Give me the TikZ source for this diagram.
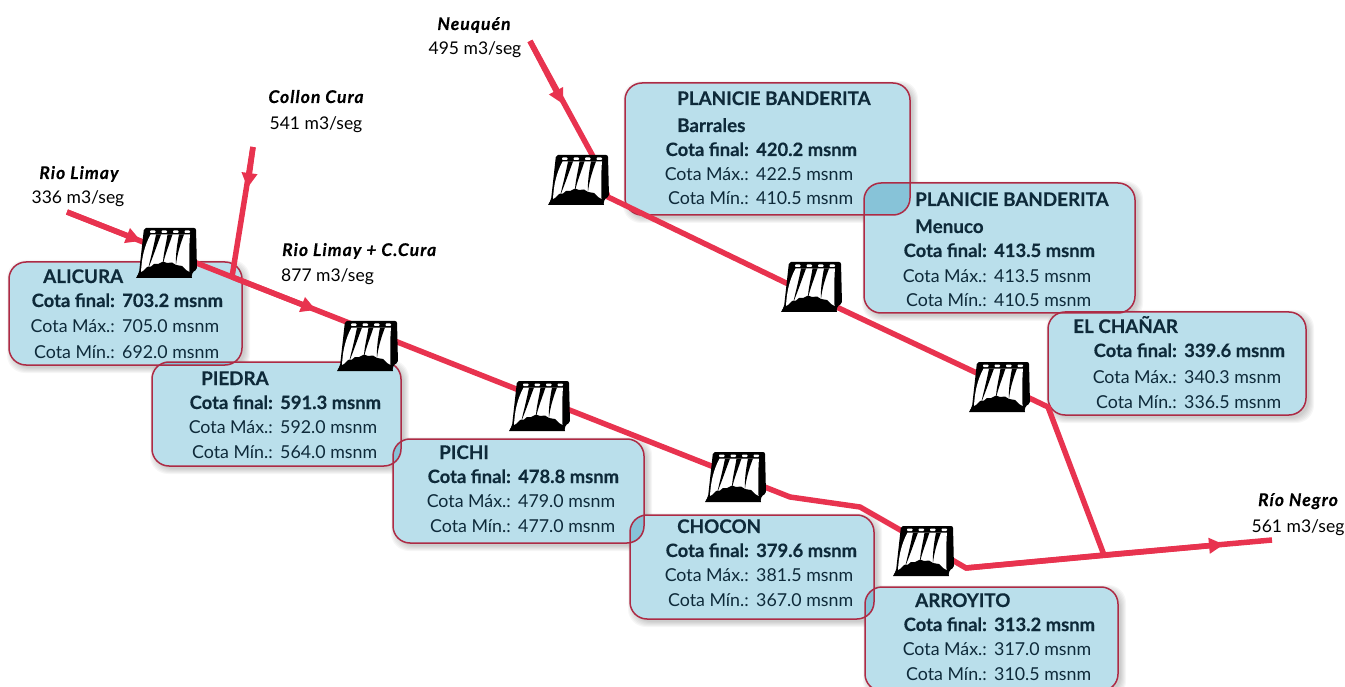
\documentclass[tikz,border=0pt]{standalone}
\usepackage{fontspec}
\setmainfont{Lato}
\usetikzlibrary{arrows.meta}
\definecolor{cajafill}{HTML}{BADFEB}
\definecolor{cajaborde}{HTML}{AD2B45}
\definecolor{rio}{HTML}{E8334F}
\definecolor{tinta}{HTML}{0E2A3A}
\newcommand{\negrita}{\bfseries\addfontfeature{FakeBold=0.25}}
\tikzset{
  cajabox/.style={rounded corners=17pt,inner sep=0pt,outer sep=0pt},
  riopath/.style={draw=rio,line width=5.5pt,line join=miter},
  riotip/.style={riopath,-{Triangle[length=15pt,width=15pt]}},
  titulo/.style={anchor=base west,inner sep=0pt,yshift=-1pt,font=\fontsize{18.8}{20}\selectfont\negrita,text=tinta},
  etfinal/.style={anchor=base east,inner sep=0pt,yshift=-1pt,font=\fontsize{18.4}{20}\selectfont\negrita,text=tinta},
  valfinal/.style={anchor=base west,inner sep=0pt,yshift=-1pt,font=\fontsize{18.4}{20}\selectfont\negrita,text=tinta},
  etnorm/.style={anchor=base east,inner sep=0pt,yshift=-1pt,font=\fontsize{17.8}{20}\selectfont,text=tinta},
  valnorm/.style={anchor=base west,inner sep=0pt,yshift=-1pt,font=\fontsize{17.8}{20}\selectfont,text=tinta},
  riotit/.style={anchor=base,inner sep=0pt,font=\fontsize{17.5}{20}\selectfont\bfseries\itshape\addfontfeature{FakeBold=0.25,LetterSpace=6},text=black},
  riocau/.style={anchor=base,inner sep=0pt,font=\fontsize{17.5}{20}\selectfont,text=black},
  represa/.pic={
    \fill[black,rounded corners=2pt] (8,1)--(60,1)--(61,43)--(56,45)--(56,50)--(0,51)--(3,46)--cycle;
    % white crest marks
    \fill[white,rounded corners=0.8pt] (14,3.5) rectangle (19.5,6) (25.5,3.5) rectangle (31,6)
                 (37,3.5) rectangle (42.5,6) (48.5,3.5) rectangle (54,6);
    % white falls
    \fill[white] (14.5,7.5)--(54,7.5) .. controls (53,18) and (53.5,32) .. (53.5,46)
       --(5,46) .. controls (5.5,30) and (9,18) .. cycle;
    % black separators
    \fill[black] (20,7.5)--(25,7.5) .. controls (21,18) and (17,30) .. (12,42) .. controls (15,30) and (18,18) .. cycle;
    \fill[black] (31.5,7.5)--(36.5,7.5) .. controls (33,18) and (29,28) .. (27,37) .. controls (27,28) and (30,18) .. cycle;
    \fill[black] (43,7.5)--(48,7.5) .. controls (44,18) and (41,28) .. (40,38) .. controls (39.5,28) and (41,18) .. cycle;
    % hill
    \fill[black] (0,51)--(3,46)--(7,44)--(11,40)--(15,39.5)--(18,37)--(22,37)--(27,34.5)--(31,36)--(36,35.5)--(40,38)--(46,39)--(50,43)--(55,46)--(56,51)--cycle;
  }
}
\newcommand{\datos}[9]{% name,xe,xv,y1,y2,y3,v1,v2,v3
  \node[etfinal] (#1-e1) at (#2,#4) {Cota final:};
  \node[valfinal] (#1-v1) at (#3,#4) {#7 msnm};
  \node[etnorm] (#1-e2) at (#2,#5) {Cota Máx.:};
  \node[valnorm] (#1-v2) at (#3,#5) {#8 msnm};
  \node[etnorm] (#1-e3) at (#2,#6) {Cota Mín.:};
  \node[valnorm] (#1-v3) at (#3,#6) {#9 msnm};
}
\newcommand{\listacajas}{ali/9/262/242/365,pie/152/362/401/466,pic/393/439/644/543,cho/630/515/874/619,arr/865/587/1118/691,bar/625/83/910/215,men/864/183/1135/313,cha/1048/312/1306/415}
\begin{document}
\begin{tikzpicture}[x=1pt,y=-1pt]
\useasboundingbox (0,0) rectangle (1345,687);
% shadows
\foreach \n/\a/\b/\c/\d in \listacajas {
  \foreach \r in {5,4,3,2,1,0} {
    \fill[black,opacity=0.035,rounded corners=18pt] (\a+3-\r,\b+3-\r) rectangle (\c+3+\r,\d+3+\r);
  }
}
\foreach \n/\a/\b/\c/\d in \listacajas {
  \fill[white,rounded corners=17pt] (\a,\b) rectangle (\c,\d);
}
% boxes
\begin{scope}[blend mode=multiply]
\foreach \n/\a/\b/\c/\d in \listacajas {
  \node[cajabox,fill=cajafill,
        minimum width={(\c-\a)*1pt},minimum height={(\d-\b)*1pt}]
        (\n) at ({(\a+\c)/2},{(\b+\d)/2}) {};
}
\end{scope}
\foreach \n/\a/\b/\c/\d in \listacajas {
  \draw[cajaborde,line width=1.5pt,rounded corners=17pt] (\a,\b) rectangle (\c,\d);
}
% box texts
\node[titulo] (ali-t) at (43,282) {ALICURA};
\datos{ali}{115}{122}{306}{332}{357}{703.2}{705.0}{692.0}
\node[titulo] (pie-t) at (201,384) {PIEDRA};
\datos{pie}{273}{280}{408}{432}{457}{591.3}{592.0}{564.0}
\node[titulo] (pic-t) at (439,458) {PICHI};
\datos{pic}{511}{518}{482}{506}{531}{478.8}{479.0}{477.0}
\node[titulo] (cho-t) at (677,532) {CHOCON};
\datos{cho}{749}{756}{556}{580}{605}{379.6}{381.5}{367.0}
\node[titulo] (arr-t) at (915,606) {ARROYITO};
\datos{arr}{987}{994}{630}{654}{679}{313.2}{317.0}{310.5}
\node[titulo] (bar-t) at (677,104) {PLANICIE BANDERITA};
\node[titulo] (bar-s) at (677,131) {Barrales};
\datos{bar}{749}{756}{155}{180}{204}{420.2}{422.5}{410.5}
\node[titulo] (men-t) at (915,205) {PLANICIE BANDERITA};
\node[titulo] (men-s) at (915,232) {Menuco};
\datos{men}{987}{994}{256}{282}{306}{413.5}{413.5}{410.5}
\node[titulo] (cha-t) at (1073,332) {EL CHAÑAR};
\datos{cha}{1177}{1184}{356}{382}{407}{339.6}{340.3}{336.5}
% river coordinates
\coordinate (limayIni) at (67,212);
\coordinate (limayTip) at (141,241);
\coordinate (dAli) at (167,251.4);
\coordinate (junta) at (232,277);
\coordinate (mainTip) at (316,310);
\coordinate (dPie) at (367,330);
\coordinate (dPic) at (539,398);
\coordinate (dCho) at (736,475.7);
\coordinate (q1) at (790,497);
\coordinate (q2) at (860,507);
\coordinate (dArr) at (923,543);
\coordinate (q3) at (966,568);
\coordinate (juntaN) at (1104,555);
\coordinate (negroTip) at (1224,544.4);
\coordinate (negroFin) at (1272,540);
\coordinate (collonIni) at (253,147);
\coordinate (collonTip) at (247.5,188);
\coordinate (neuIni) at (530,41);
\coordinate (neuTip) at (563,104);
\coordinate (dBar) at (595,160);
\coordinate (dBar2) at (608,197);
\coordinate (dMen) at (811,295);
\coordinate (dCha) at (998,383);
\coordinate (chaFin) at (1048,407);
% rivers
\draw[riopath] (limayIni) -- (dAli) -- (junta) -- (dPie) -- (dPic) -- (dCho) -- (q1) -- (q2) -- (dArr) -- (q3) -- (juntaN) -- (negroFin);
\draw[riotip] (limayIni) -- (limayTip);
\draw[riotip] (junta) -- (mainTip);
\draw[riotip] (q3) -- (negroTip);
\draw[riopath] (collonIni) -- (junta);
\draw[riotip] (collonIni) -- (collonTip);
\draw[riopath] (neuIni) -- (dBar) -- (dBar2) -- (dMen) -- (dCha) -- (chaFin) -- (juntaN);
\draw[riotip] (neuIni) -- (neuTip);
% dams
\pic at (136,227) {represa};
\pic at (337,320) {represa};
\pic at (509,380) {represa};
\pic at (705,451) {represa};
\pic at (893,525) {represa};
\pic at (548,154) {represa};
\pic at (781,261) {represa};
\pic at (969,361) {represa};
% river labels
\node[riotit] (l1) at (79,179) {Rio Limay};
\node[riocau] (l1c) at (78,204) {336 m3/seg};
\node[riotit] (l2) at (316,103) {Collon Cura};
\node[riocau] (l2c) at (316,130) {541 m3/seg};
\node[riotit,anchor=base west] (l3) at (282,256) {Rio Limay + C.Cura};
\node[riocau,anchor=base west] (l3c) at (281,282) {877 m3/seg};
\node[riotit] (l4) at (474,30) {Neuquén};
\node[riocau] (l4c) at (475,55) {495 m3/seg};
\node[riotit] (l5) at (1298,506) {Río Negro};
\node[riocau] (l5c) at (1298,532) {561 m3/seg};
\end{tikzpicture}
\end{document}
